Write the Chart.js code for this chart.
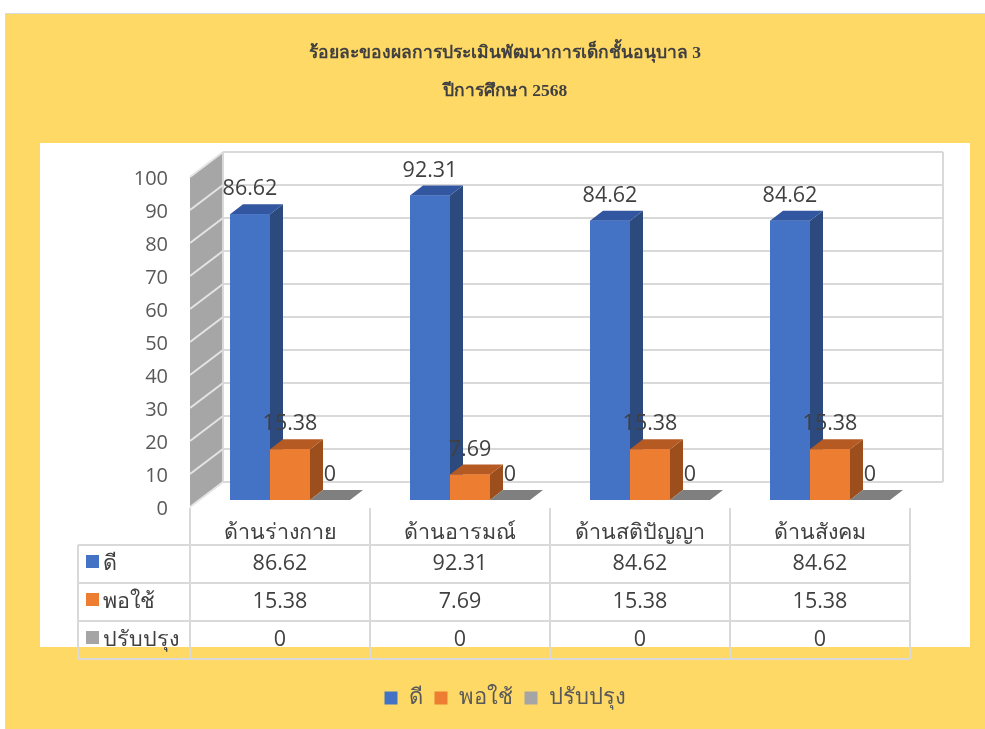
<!DOCTYPE html>
<html>
<head>
<meta charset="utf-8">
<script src="https://cdn.jsdelivr.net/npm/chart.js@4.4.1/dist/chart.umd.min.js"></script>
<style>
  html, body { margin: 0; padding: 0; background: #fff; }
  #wrap { width: 985px; height: 729px; position: relative; }
</style>
</head>
<body>
<div id="wrap"><canvas id="chart"></canvas></div>
<script>
const titleLines = ['ร้อยละของผลการประเมินพัฒนาการเด็กชั้นอนุบาล 3', 'ปีการศึกษา 2568'];
const categories = ['ด้านร่างกาย', 'ด้านอารมณ์', 'ด้านสติปัญญา', 'ด้านสังคม'];
const seriesNames = ['ดี', 'พอใช้', 'ปรับปรุง'];
const goodValues = [86.62, 92.31, 84.62, 84.62];
const fairValues = [15.38, 7.69, 15.38, 15.38];
const improveValues = [0, 0, 0, 0];

const frontColors = ['#4472C4', '#ED7D31', '#A5A5A5'];
const sideColors = ['#2C4A7E', '#9C4F1C', '#6E6E6E'];
const topColors = ['#3257A0', '#B55A22', '#7F7F7F'];

const FONT = "'Open Sans', 'Noto Sans', sans-serif";
const PLOT_BOTTOM = 500;
const PAD_BOTTOM = 10;
const PAD_LEFT = 90;
// 3d offsets relative to the plane of the bar fronts
const BAR_D = { x: 13, y: -10 };
const BACK = { x: 23, y: -18 };
const FRONT = { x: -10, y: 7 };

Chart.defaults.font.family = FONT;

function poly(ctx, pts, fill) {
  ctx.beginPath();
  ctx.moveTo(pts[0][0], pts[0][1]);
  for (let i = 1; i < pts.length; i++) ctx.lineTo(pts[i][0], pts[i][1]);
  ctx.closePath();
  ctx.fillStyle = fill;
  ctx.fill();
}

const background = {
  id: 'background',
  beforeDraw(chart) {
    const { ctx, width, height } = chart;
    ctx.save();
    ctx.fillStyle = '#fff';
    ctx.fillRect(0, 0, width, height);
    ctx.fillStyle = '#FFD966';
    ctx.fillRect(5, 13, width - 5, height - 13);
    ctx.strokeStyle = '#D9D9D9';
    ctx.lineWidth = 1;
    ctx.strokeRect(5.5, 13.5, width - 5, height - 13);
    ctx.fillStyle = '#fff';
    ctx.fillRect(40, 143, 930, 504);
    ctx.restore();
  }
};

const walls = {
  id: 'walls',
  beforeDatasetsDraw(chart) {
    const { ctx, chartArea: a, scales: { y } } = chart;
    const y0 = y.getPixelForValue(0), yTop = y.getPixelForValue(100);
    ctx.save();
    poly(ctx, [
      [a.left + FRONT.x, yTop + FRONT.y], [a.left + BACK.x, yTop + BACK.y],
      [a.left + BACK.x, y0 + BACK.y], [a.left + FRONT.x, y0 + FRONT.y]
    ], '#A6A6A6');
    ctx.lineWidth = 2;
    y.ticks.forEach(t => {
      const py = y.getPixelForValue(t.value);
      ctx.strokeStyle = '#E4E4E4';
      ctx.beginPath();
      ctx.moveTo(a.left + FRONT.x, py + FRONT.y);
      ctx.lineTo(a.left + BACK.x, py + BACK.y);
      ctx.stroke();
      ctx.strokeStyle = '#D9D9D9';
      ctx.beginPath();
      ctx.moveTo(a.left + BACK.x, py + BACK.y);
      ctx.lineTo(a.right + BACK.x, py + BACK.y);
      ctx.stroke();
    });
    ctx.beginPath();
    ctx.moveTo(a.left + BACK.x, yTop + BACK.y);
    ctx.lineTo(a.left + BACK.x, y0 + BACK.y);
    ctx.moveTo(a.right + BACK.x, yTop + BACK.y);
    ctx.lineTo(a.right + BACK.x, y0 + BACK.y);
    ctx.stroke();
    ctx.restore();
  }
};

const bars3d = {
  id: 'bars3d',
  afterDatasetsDraw(chart) {
    const { ctx } = chart;
    ctx.save();
    categories.forEach((c, i) => {
      chart.data.datasets.forEach((ds, d) => {
        const el = chart.getDatasetMeta(d).data[i];
        const { x, y, base, width } = el.getProps(['x', 'y', 'base', 'width'], true);
        const l = x - width / 2, r = x + width / 2;
        poly(ctx, [[r, y], [r + BAR_D.x, y + BAR_D.y], [r + BAR_D.x, base + BAR_D.y], [r, base]], sideColors[d]);
        poly(ctx, [[l, y], [r, y], [r + BAR_D.x, y + BAR_D.y], [l + BAR_D.x, y + BAR_D.y]], topColors[d]);
        el.draw(ctx);
      });
    });
    // value labels
    ctx.fillStyle = '#404040';
    ctx.font = '21.5px ' + FONT;
    ctx.textAlign = 'center';
    ctx.textBaseline = 'middle';
    chart.data.datasets.forEach((ds, d) => {
      chart.getDatasetMeta(d).data.forEach((el, i) => {
        ctx.fillText(String(ds.data[i]), el.x, el.y - 25);
      });
    });
    ctx.restore();
  }
};

const dataTable = {
  id: 'dataTable',
  afterDraw(chart) {
    const { ctx, chartArea: a, scales: { x, y } } = chart;
    const colW = (a.right - a.left) / categories.length;
    const headTop = y.getPixelForValue(0) + FRONT.y + 1;
    const rowTop = headTop + 37, rowH = 38;
    const keyLeft = 78;
    const xs = categories.map((c, i) => x.getPixelForValue(i) + FRONT.x);
    const left = xs[0] - colW / 2, right = xs[xs.length - 1] + colW / 2;
    const bottom = rowTop + rowH * seriesNames.length;
    ctx.save();
    ctx.strokeStyle = '#D9D9D9';
    ctx.lineWidth = 2;
    ctx.beginPath();
    for (let k = 0; k <= categories.length; k++) {
      const px = left + k * colW;
      ctx.moveTo(px, headTop);
      ctx.lineTo(px, bottom);
    }
    ctx.moveTo(keyLeft, rowTop);
    ctx.lineTo(keyLeft, bottom);
    for (let r = 0; r <= seriesNames.length; r++) {
      ctx.moveTo(keyLeft, rowTop + r * rowH);
      ctx.lineTo(right, rowTop + r * rowH);
    }
    ctx.stroke();
    ctx.font = '21.5px ' + FONT;
    ctx.textBaseline = 'middle';
    chart.data.datasets.forEach((ds, d) => {
      const cy = rowTop + d * rowH + rowH / 2;
      ctx.fillStyle = frontColors[d];
      ctx.fillRect(keyLeft + 8, cy - 9, 13, 13);
      ctx.fillStyle = '#404040';
      ctx.textAlign = 'left';
      ctx.fillText(ds.label, keyLeft + 25, cy);
      ctx.textAlign = 'center';
      ds.data.forEach((v, i) => ctx.fillText(String(v), xs[i], cy));
    });
    ctx.restore();
  }
};

new Chart(document.getElementById('chart'), {
  type: 'bar',
  data: {
    labels: categories,
    datasets: [
      { label: seriesNames[0], data: goodValues, backgroundColor: frontColors[0] },
      { label: seriesNames[1], data: fairValues, backgroundColor: frontColors[1] },
      { label: seriesNames[2], data: improveValues, backgroundColor: frontColors[2] }
    ]
  },
  options: {
    responsive: true,
    maintainAspectRatio: false,
    animation: false,
    layout: { padding: { left: PAD_LEFT, right: 65, top: 0, bottom: PAD_BOTTOM } },
    datasets: { bar: { categoryPercentage: 120 / 180, barPercentage: 1, borderWidth: 0 } },
    scales: {
      x: {
        grid: { display: false },
        border: { display: false },
        ticks: { color: '#404040', font: { size: 21.5 }, labelOffset: FRONT.x, padding: 12, maxRotation: 0, autoSkip: false },
        afterFit(s) { s.height = s.chart.height - PLOT_BOTTOM - PAD_BOTTOM - (s.chart.legend ? s.chart.legend.height : 0); }
      },
      y: {
        min: 0, max: 100,
        grid: { display: false, drawTicks: false },
        border: { display: false },
        ticks: { stepSize: 10, color: '#595959', font: { size: 20 }, padding: 32, labelOffset: 9 },
        afterFit(s) { s.width = 200 - PAD_LEFT; }
      }
    },
    plugins: {
      title: {
        display: true,
        text: titleLines,
        color: '#404040',
        font: { family: "'Liberation Serif', serif", size: 17.5, weight: 'bold', lineHeight: 2.2 },
        padding: { top: 34, bottom: 59 }
      },
      legend: {
        position: 'bottom',
        labels: { color: '#595959', font: { size: 22 }, boxWidth: 13, boxHeight: 13, padding: 12 }
      },
      tooltip: { enabled: false }
    }
  },
  plugins: [background, walls, bars3d, dataTable]
});
</script>
</body>
</html>
